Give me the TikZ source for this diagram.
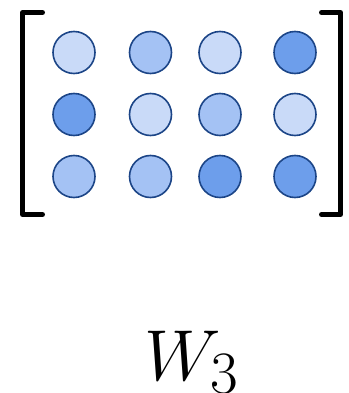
\documentclass[tikz,border=0pt]{standalone}
\begin{document}
\begin{tikzpicture}[x=1pt,y=-1pt,
  cell/.style={circle,draw=bdr,line width=1.6pt,minimum size=42pt,inner sep=0pt},
  lc/.style={cell,fill=cl},
  mc/.style={cell,fill=cm},
  dc/.style={cell,fill=cd},
  brk/.style={line width=5pt,line cap=round,line join=round}]
\definecolor{cl}{HTML}{C9DAF8}
\definecolor{cm}{HTML}{A4C2F4}
\definecolor{cd}{HTML}{6D9EEB}
\definecolor{bdr}{HTML}{1C4587}
\useasboundingbox (0,0) rectangle (348,393);
% row 1
\node[lc] (a11) at (74,52.5) {};
\node[mc] (a12) at (150.5,52.5) {};
\node[lc] (a13) at (220,52.5) {};
\node[dc] (a14) at (295,52.5) {};
% row 2
\node[dc] (a21) at (74,114.5) {};
\node[lc] (a22) at (150.5,114.5) {};
\node[mc] (a23) at (220,114.5) {};
\node[lc] (a24) at (295,114.5) {};
% row 3
\node[mc] (a31) at (74,176.5) {};
\node[mc] (a32) at (150.5,176.5) {};
\node[dc] (a33) at (220,176.5) {};
\node[dc] (a34) at (295,176.5) {};
% brackets
\draw[brk] (42.5,12.5) -- (22.5,12.5) -- (22.5,214.5) -- (42.5,214.5);
\draw[brk] (321.5,12.5) -- (340.5,12.5) -- (340.5,214.5) -- (321.5,214.5);
% label
\node[anchor=base,inner sep=0pt,scale=2.9] (lbl) at (192,380) {\Huge $W_3$};
\end{tikzpicture}
\end{document}
